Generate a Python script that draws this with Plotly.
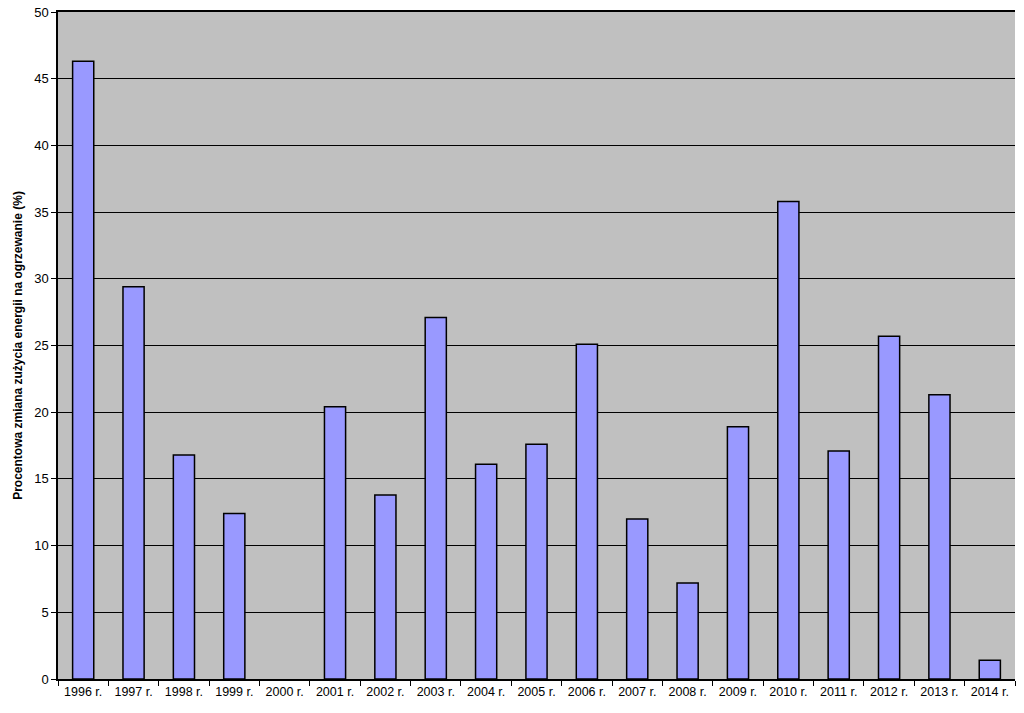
import plotly.graph_objects as go

years = ["1996 r.", "1997 r.", "1998 r.", "1999 r.", "2000 r.", "2001 r.", "2002 r.",
         "2003 r.", "2004 r.", "2005 r.", "2006 r.", "2007 r.", "2008 r.", "2009 r.",
         "2010 r.", "2011 r.", "2012 r.", "2013 r.", "2014 r."]
values = [46.3, 29.4, 16.8, 12.4, 0.0, 20.4, 13.8, 27.1, 16.1, 17.6, 25.1, 12.0,
          7.2, 18.9, 35.8, 17.1, 25.7, 21.3, 1.4]
y_ticks = [0, 5, 10, 15, 20, 25, 30, 35, 40, 45, 50]

line_widths = [1.5 if v > 0 else 0 for v in values]

fig = go.Figure()
fig.add_trace(go.Bar(
    x=years, y=values, width=0.42,
    marker=dict(color="#9999FF", line=dict(color="#000000", width=line_widths)),
))

fig.update_layout(
    width=1024, height=713,
    margin=dict(l=58, r=9, t=12, b=34),
    paper_bgcolor="white", plot_bgcolor="#C0C0C0",
    font=dict(family="Liberation Sans, Arial, sans-serif", size=12, color="black"),
    showlegend=False,
)
fig.update_xaxes(
    type="category", tickson="boundaries", ticks="outside", ticklen=5,
    tickcolor="black", showline=True, linecolor="black", linewidth=1.5, mirror=True,
    showgrid=False, tickfont=dict(size=12.5), automargin=False,
    ticklabeloverflow="allow",
)
fig.update_yaxes(
    range=[0, 50], tickvals=y_ticks, ticks="outside", ticklen=5, tickcolor="black",
    showline=True, linecolor="black", linewidth=1.5,
    showgrid=True, gridcolor="black", gridwidth=1, zeroline=False,
    tickfont=dict(size=13), automargin=False, ticklabeloverflow="allow",
    title=dict(text="<b>Procentowa zmiana zużycia energii na ogrzewanie (%)</b>",
               font=dict(size=12), standoff=9),
)

fig.write_html("out.html", config={"displayModeBar": False},
               post_script="document.body.style.margin='0px';")
